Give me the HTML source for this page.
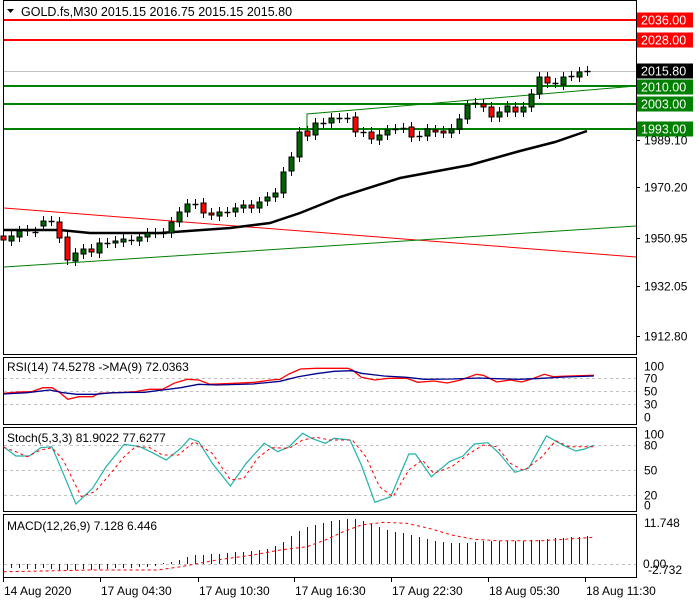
<!DOCTYPE html>
<html><head><meta charset="utf-8"><style>
html,body{margin:0;padding:0;background:#fff;}
svg{display:block;font-family:"Liberation Sans","DejaVu Sans",sans-serif;}
</style></head><body>
<svg id="s" width="700" height="600" xmlns="http://www.w3.org/2000/svg">
<rect width="700" height="600" fill="#fff"/>
<g id="g"></g>
</svg>
<script>
const NS="http://www.w3.org/2000/svg";const G=document.getElementById('g');
function el(t,a,txt){const e=document.createElementNS(NS,t);for(const k in a)e.setAttribute(k,a[k]);if(txt!==undefined)e.textContent=txt;G.appendChild(e);return e;}
function line(x1,y1,x2,y2,c,w,d){const a={x1,y1,x2,y2,stroke:c,'stroke-width':w||1};if(d)a['stroke-dasharray']=d;return el('line',a);}
function poly(pts,c,w,d){const a={points:pts.map(p=>p[0].toFixed(1)+','+p[1].toFixed(1)).join(' '),fill:'none',stroke:c,'stroke-width':w||1};if(d)a['stroke-dasharray']=d;return el('polyline',a);}
function txt(x,y,s,o){o=o||{};return el('text',Object.assign({x,y,'font-size':o.fs||12,fill:o.fill||'#000'},o.a||{}),s);}
const SP=8.0;
el('rect',{x:3.5,y:0.5,width:633,height:354,fill:'none',stroke:'#000'});
el('rect',{x:3.5,y:357.5,width:633,height:67,fill:'none',stroke:'#000'});
el('rect',{x:3.5,y:427.5,width:633,height:84,fill:'none',stroke:'#000'});
el('rect',{x:3.5,y:514.5,width:633,height:63,fill:'none',stroke:'#000'});
el('polygon',{points:'7,9 14,9 10.5,13',fill:'#000'});
txt(21,16,'GOLD.fs,M30  2015.15 2016.75 2015.15 2015.80',{fs:12.5});
[[140,'1989.10'],[187,'1970.20'],[238,'1950.95'],[286,'1932.05'],[336,'1912.80']].forEach(t=>{line(636,t[0]+.5,640,t[0]+.5,'#000');txt(644,t[0]+4.5,t[1]);});
line(4,71.5,636,71.5,'#c0c0c0',1);
line(4,20,636,20,'#ff0000',2);line(4,40,636,40,'#ff0000',2);
line(4,86,636,86,'#008000',2);line(4,104,636,104,'#008000',2);line(4,129,636,129,'#008000',2);
line(4,208,636,257,'#ff0000',1);
line(4,267,636,226,'#008000',1);
poly([[307,131],[307,114],[636,86]],'#008000',1);
const ma=[[4,230],[60,230],[90,233],[160,233],[230,228],[270,223],[300,213],[310,209],[340,197],[400,178],[470,165],[520,151],[555,142],[587,131]];
poly(ma,'#000',2.5);
const C=[['r',236,240],['g',236,241],['g',231,237],['g',230,231],['d',232],['g',221,226],['d',221],['r',222,238],['r',237,260],['g',253,261],['g',249,254],['r',249,252],['g',243,253],['d',243],['g',241,243],['g',239,242],['d',240],['g',237,241],['g',233,237],['d',233],['d',233],['g',222,233],['g',212,222],['g',204,212],['d',204],['r',203,213],['r',213,215],['g',212,216],['d',212],['g',208,212],['g',205,208],['r',205,208],['g',202,208],['g',197,201],['g',193,197],['g',172,193],['g',157,171],['g',132,157],['r',131,136],['g',123,135],['d',123],['g',118,123],['d',118],['d',118],['r',117,132],['d',132],['r',132,139],['g',135,140],['g',130,135],['d',129],['d',128],['r',127,137],['d',136],['g',129,136],['r',130,132],['r',131,133],['g',129,133],['g',119,129],['g',105,119],['d',103],['r',104,107],['r',107,117],['g',112,117],['g',106,112],['r',107,112],['g',107,112],['g',94,107],['g',77,94],['r',77,83],['d',83],['g',77,85],['d',76],['g',72,77],['d',71]];
C.forEach((c,i)=>{const x=Math.round(3+i*SP)+.5;const t=c[1],b=c[2]===undefined?c[1]:c[2];
 line(x,t-5,x,b+5,'#000',1);
 if(c[0]==='d'){line(x-3,t+.5,x+3,t+.5,'#000',1.5);}
 else el('rect',{x:x-2.5,y:t,width:5,height:Math.max(b-t,1),fill:c[0]==='g'?'#006400':'#ff0000',stroke:'#000','stroke-width':1});
});
function lab(y,s,bg){el('rect',{x:637,y:y-7.5,width:56,height:15,fill:bg});txt(641,y+4.5,s,{fs:12.5,fill:'#fff'});}
lab(20,'2036.00','#ff0000');lab(40,'2028.00','#ff0000');lab(71,'2015.80','#000');
lab(87,'2010.00','#008000');lab(104,'2003.00','#008000');lab(129,'1993.00','#008000');
const Z=a=>a.map(p=>[p[0]/2.214,350+p[1]/3]);
[378,391,404].forEach(y=>line(4,y+.5,636,y+.5,'#c0c0c0',1,'3,3'));
[[366,'100'],[378,'70'],[391,'50'],[404,'30'],[417,'0']].forEach(t=>txt(644,t[0]+4.5,t[1]));
txt(7,371,'RSI(14) 74.5278  ->MA(9) 72.0363');
poly(Z([[8,130],[40,126],[70,125],[95,113],[115,113],[130,125],[150,148],[175,140],[205,140],[220,130],[260,128],[300,125],[330,118],[360,118],[385,100],[415,88],[440,90],[465,103],[520,100],[565,97],[600,90],[620,88],[640,72],[665,57],[700,55],[770,55],[780,60],[800,82],[830,90],[860,85],[900,85],[925,97],[960,93],[990,99],[1020,90],[1055,73],[1070,76],[1100,96],[1130,90],[1155,96],[1175,88],[1205,73],[1225,80],[1260,78],[1315,76]]),'#ff0000',1.3);
poly(Z([[8,132],[60,128],[110,120],[140,128],[170,133],[210,133],[250,128],[320,127],[360,120],[400,113],[440,103],[480,105],[560,102],[620,94],[660,80],[700,71],[740,64],[780,62],[800,70],[850,78],[900,82],[940,88],[1000,87],[1060,84],[1100,86],[1150,88],[1200,85],[1250,81],[1315,78]]),'#00008b',1.3);
[445,470,495].forEach(y=>line(4,y+.5,636,y+.5,'#c0c0c0',1,'3,3'));
[[434,'100'],[445,'80'],[470,'50'],[495,'20'],[505,'0']].forEach(t=>txt(644,t[0]+4.5,t[1]));
txt(7,442,'Stoch(5,3,3) 81.9022 77.6277');
poly(Z([[8,290],[35,318],[65,318],[90,293],[115,290],[140,370],[168,462],[205,415],[235,350],[275,283],[310,290],[340,310],[368,330],[400,295],[420,265],[440,275],[470,340],[510,408],[545,340],[585,280],[615,305],[640,290],[670,250],[690,265],[720,280],[740,265],[775,270],[800,345],[830,457],[865,440],[905,312],[920,312],[955,380],[995,335],[1025,318],[1050,282],[1080,278],[1105,310],[1140,367],[1170,355],[1210,258],[1250,288],[1275,303],[1295,297],[1315,285]]),'#20b2aa',1.2);
poly(Z([[8,292],[35,305],[60,320],[90,300],[115,293],[140,330],[180,440],[210,425],[245,370],[275,320],[300,290],[330,292],[360,315],[395,315],[430,275],[470,310],[510,390],[540,385],[570,325],[600,293],[640,295],[670,270],[700,262],[730,270],[780,270],[810,320],[840,410],[870,440],[905,360],[935,330],[960,370],[1000,350],[1040,310],[1070,285],[1100,290],[1130,340],[1160,362],[1200,320],[1230,272],[1260,290],[1315,290]]),'#ff0000',1,'3,3');
line(4,564.5,636,564.5,'#c0c0c0',1,'3,3');
txt(644,527,'11.748');txt(643,568,'0.00');txt(648,574,'-2.732');
txt(7,530,'MACD(12,26,9) 7.128 6.446');
const M=[569,568,568,569,569,568,569,570,570,570,569,570,569,569,568,568,568,567,567,566,563,562,560,557,555,555,554,554,553,552,552,551,550,549,546,542,536,531,527,525,523,521,520,519,519,521,524,527,530,532,533,535,537,539,541,542,543,543,543,542,541,541,541,541,541,541,540,540,539,538,538,537,537,536];
M.forEach((v,i)=>{const x=Math.round(3+i*SP)+.5;line(x,564,x,v,'#0000ff',1);});
poly(Z([[8,665],[100,663],[200,660],[350,660],[400,650],[480,630],[560,615],[620,600],[680,590],[720,570],[760,545],[800,525],[850,517],[900,520],[950,535],[1000,555],[1050,568],[1100,572],[1200,572],[1250,568],[1315,562]]),'#ff0000',1,'3,3');
[[3,'14 Aug 2020'],[100,'17 Aug 04:30'],[198,'17 Aug 10:30'],[294,'17 Aug 16:30'],[391,'17 Aug 22:30'],[488,'18 Aug 05:30'],[585,'18 Aug 11:30']].forEach(t=>{line(t[0]+.5,578,t[0]+.5,582,'#000');txt(t[0]+1,595,t[1]);});
</script>
</body></html>
